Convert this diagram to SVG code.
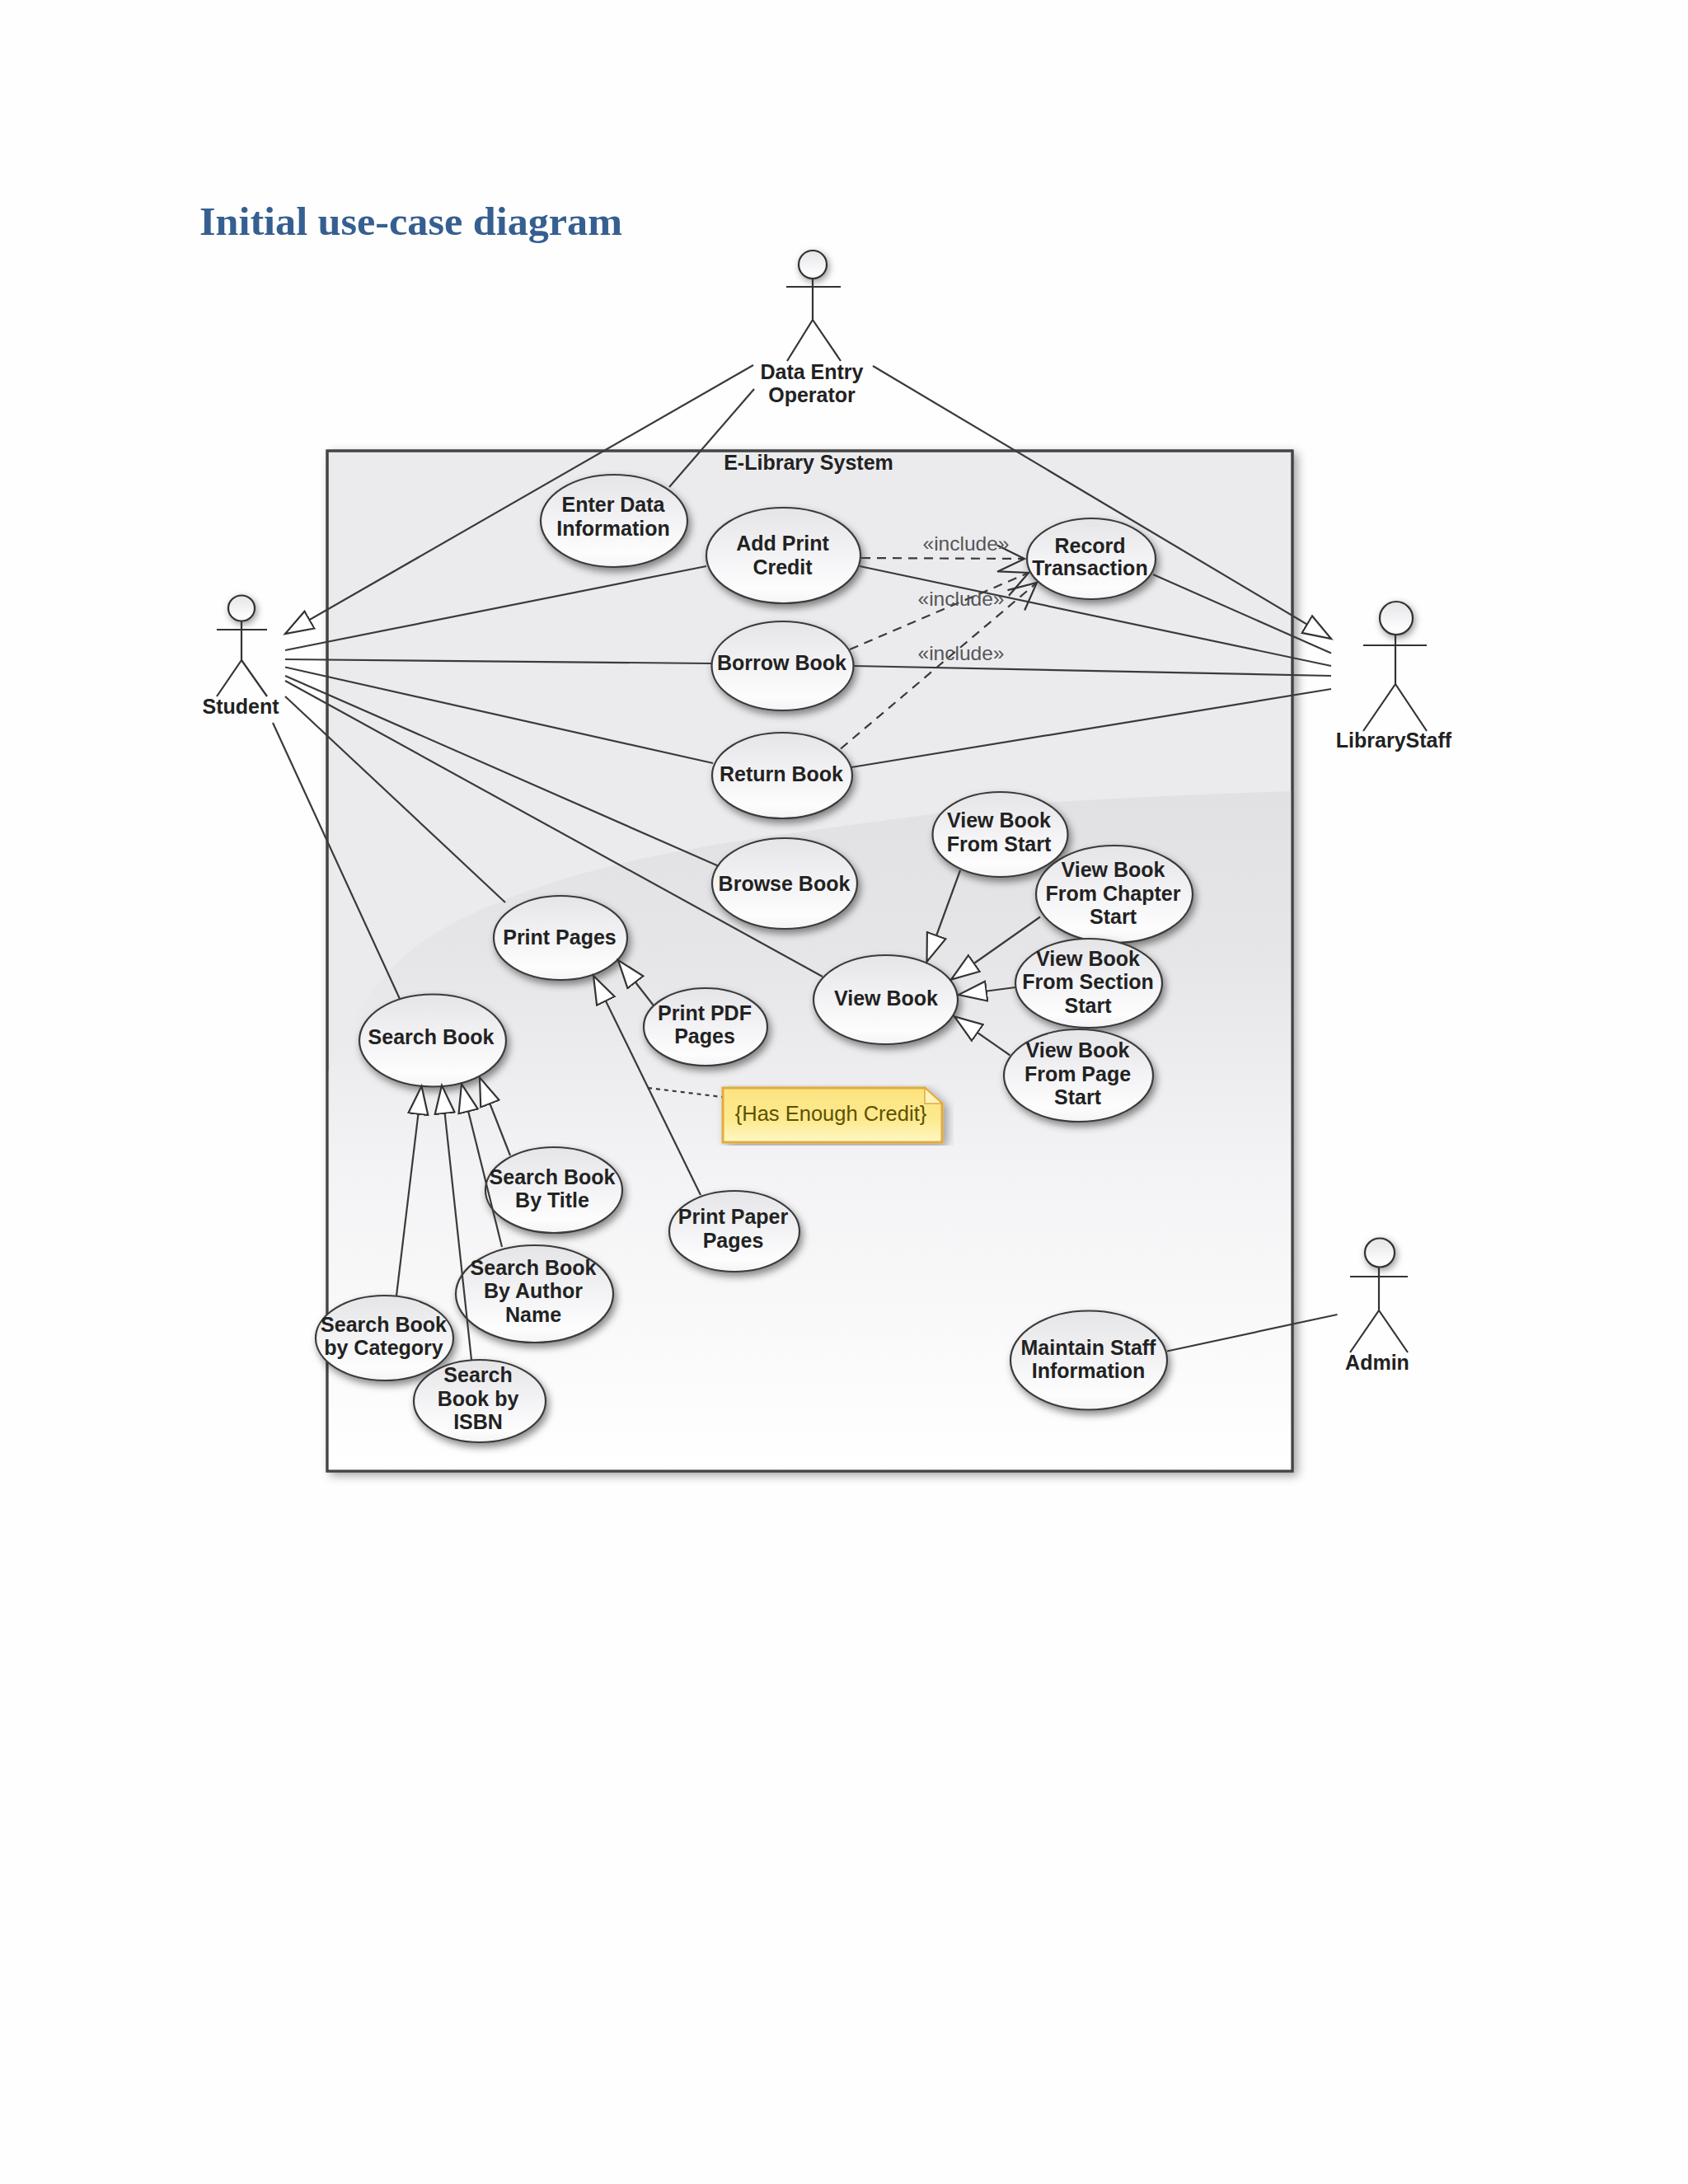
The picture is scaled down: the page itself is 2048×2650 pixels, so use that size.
<svg xmlns="http://www.w3.org/2000/svg" width="2048" height="2650" viewBox="0 0 2048 2650">
<style>
text{font-family:"Liberation Sans",Arial,sans-serif}
.t{font-size:25px;font-weight:bold;fill:#222;text-anchor:middle}
.inc{font-size:24.500px;fill:#555;text-anchor:middle}
.uc{fill:url(#ucFill);stroke:#3a3a3a;stroke-width:2.2;filter:url(#sh)}
.a{fill:none;stroke:#333;stroke-width:2.2}
.head{fill:url(#ucFill);stroke:#333;stroke-width:2.2;filter:url(#halo)}
.c{fill:none;stroke:#3a3a3a;stroke-width:2.2}
.g{marker-end:url(#gen)}
.d{stroke-dasharray:11 8;marker-end:url(#open)}
</style>
<defs>
<linearGradient id="ucFill" x1="0" y1="0" x2="0" y2="1"><stop offset="0" stop-color="#e5e5e8"/><stop offset=".85" stop-color="#fdfdfe"/><stop offset="1" stop-color="#f4f4f6"/></linearGradient>
<linearGradient id="low" gradientUnits="userSpaceOnUse" x1="0" y1="960" x2="0" y2="1785"><stop offset="0" stop-color="#e1e1e4"/><stop offset=".25" stop-color="#e6e6e9"/><stop offset=".55" stop-color="#f3f3f5"/><stop offset="1" stop-color="#fff"/></linearGradient>
<linearGradient id="noteFill" x1="0" y1="0" x2="0" y2="1"><stop offset="0" stop-color="#fce37f"/><stop offset=".6" stop-color="#fdea90"/><stop offset="1" stop-color="#fff8c4"/></linearGradient>
<filter id="sh" x="-20%" y="-20%" width="140%" height="150%"><feDropShadow dx="3" dy="5" stdDeviation="5" flood-color="#000" flood-opacity=".45"/></filter>
<filter id="halo" x="-50%" y="-50%" width="200%" height="200%"><feDropShadow dx="2" dy="3" stdDeviation="4" flood-color="#000" flood-opacity=".4"/></filter>
<filter id="box" x="-5%" y="-5%" width="110%" height="110%"><feDropShadow dx="5" dy="4" stdDeviation="6" flood-color="#000" flood-opacity=".35"/></filter>
<marker id="gen" markerUnits="userSpaceOnUse" markerWidth="38" markerHeight="30" refX="35" refY="15" orient="auto"><path d="M1,3 L35,15 L1,27 Z" fill="#fff" stroke="#333" stroke-width="2.2"/></marker>
<marker id="open" markerUnits="userSpaceOnUse" markerWidth="38" markerHeight="38" refX="34" refY="19" orient="auto"><path d="M1,3 L34,19 L1,35" fill="none" stroke="#333" stroke-width="2.2"/></marker>
</defs>
<rect width="2048" height="2650" fill="#fefefe"/>
<text id="title" x="242" y="285" font-size="49" font-weight="bold" fill="#365f91" textLength="513" lengthAdjust="spacingAndGlyphs" style="font-family:'Liberation Serif','Times New Roman',serif">Initial use-case diagram</text>
<g id="system">
<rect x="397" y="547" width="1171" height="1238" fill="#ebebee" stroke="#444" stroke-width="3" filter="url(#box)"/>
<path d="M1566.500,960 C1400,966 1250,972 1145,986 C950,1012 800,1030 686,1066 C580,1100 520,1130 480,1170 C440,1210 415,1260 398.500,1300 V1783.500 H1566.500 Z" fill="url(#low)"/>
<rect x="397" y="547" width="1171" height="1238" fill="none" stroke="#444" stroke-width="3"/>
<text class="t" x="981" y="570">E-Library System</text>
</g>
<g id="uc-enter"><ellipse class="uc" cx="745" cy="632" rx="89" ry="56"/><text class="t" x="744" y="621">Enter Data</text><text class="t" x="744" y="650">Information</text></g>
<g id="uc-add"><ellipse class="uc" cx="950.500" cy="674" rx="93.500" ry="58"/><text class="t" x="949.500" y="668">Add Print</text><text class="t" x="949.500" y="697">Credit</text></g>
<g id="uc-borrow"><ellipse class="uc" cx="949.500" cy="808" rx="86" ry="54"/><text class="t" x="948.500" y="813">Borrow Book</text></g>
<g id="uc-return"><ellipse class="uc" cx="949" cy="941" rx="85" ry="52"/><text class="t" x="948" y="947.500">Return Book</text></g>
<g id="uc-record"><ellipse class="uc" cx="1324" cy="678" rx="78" ry="49"/><text class="t" x="1322.500" y="670.500">Record</text><text class="t" x="1322.500" y="698">Transaction</text></g>
<g id="uc-browse"><ellipse class="uc" cx="952" cy="1072" rx="88" ry="55"/><text class="t" x="951.500" y="1081">Browse Book</text></g>
<g id="uc-viewbook"><ellipse class="uc" cx="1074.500" cy="1213" rx="87.500" ry="54"/><text class="t" x="1075" y="1220">View Book</text></g>
<g id="uc-vstart"><ellipse class="uc" cx="1213.500" cy="1012.500" rx="82" ry="51.500"/><text class="t" x="1212" y="1004">View Book</text><text class="t" x="1212" y="1032.500">From Start</text></g>
<g id="uc-vchapter"><ellipse class="uc" cx="1352" cy="1085" rx="95" ry="59"/><text class="t" x="1350.500" y="1064">View Book</text><text class="t" x="1350.500" y="1093">From Chapter</text><text class="t" x="1350.500" y="1121">Start</text></g>
<g id="uc-vsection"><ellipse class="uc" cx="1321" cy="1193" rx="89" ry="54"/><text class="t" x="1320" y="1172">View Book</text><text class="t" x="1320" y="1200">From Section</text><text class="t" x="1320" y="1228.500">Start</text></g>
<g id="uc-vpage"><ellipse class="uc" cx="1308.500" cy="1305" rx="90.500" ry="56"/><text class="t" x="1307.500" y="1283">View Book</text><text class="t" x="1307.500" y="1312">From Page</text><text class="t" x="1307.500" y="1340">Start</text></g>
<g id="uc-printpages"><ellipse class="uc" cx="680" cy="1138" rx="81" ry="51"/><text class="t" x="679" y="1145.500">Print Pages</text></g>
<g id="uc-printpdf"><ellipse class="uc" cx="856" cy="1246" rx="75" ry="47"/><text class="t" x="855" y="1237.500">Print PDF</text><text class="t" x="855" y="1266">Pages</text></g>
<g id="uc-printpaper"><ellipse class="uc" cx="891" cy="1494" rx="79" ry="49"/><text class="t" x="889.500" y="1485">Print Paper</text><text class="t" x="889.500" y="1514">Pages</text></g>
<g id="uc-search"><ellipse class="uc" cx="525" cy="1262.500" rx="89" ry="56"/><text class="t" x="523" y="1267">Search Book</text></g>
<g id="uc-stitle"><ellipse class="uc" cx="672" cy="1444" rx="83" ry="52"/><text class="t" x="670" y="1437">Search Book</text><text class="t" x="670" y="1465">By Title</text></g>
<g id="uc-sauthor"><ellipse class="uc" cx="648.500" cy="1570" rx="95.500" ry="59"/><text class="t" x="647" y="1547">Search Book</text><text class="t" x="647" y="1575">By Author</text><text class="t" x="647" y="1603.500">Name</text></g>
<g id="uc-scategory"><ellipse class="uc" cx="466.500" cy="1623.500" rx="83.500" ry="51.500"/><text class="t" x="465.500" y="1615.500">Search Book</text><text class="t" x="465.500" y="1644">by Category</text></g>
<g id="uc-sisbn"><ellipse class="uc" cx="582" cy="1700" rx="80" ry="50"/><text class="t" x="580" y="1677">Search</text><text class="t" x="580" y="1705.500">Book by</text><text class="t" x="580" y="1734">ISBN</text></g>
<g id="uc-maintain"><ellipse class="uc" cx="1321" cy="1650.500" rx="95" ry="60"/><text class="t" x="1320.500" y="1644">Maintain Staff</text><text class="t" x="1320.500" y="1672">Information</text></g>
<g id="note-credit"><path d="M877,1320 H1122 L1143,1339 V1386 H877 Z" fill="url(#noteFill)" stroke="#e2ab3e" stroke-width="3" filter="url(#box)"/><path d="M1122,1320 V1339 H1143 Z" fill="#fff3bd" stroke="#e2ab3e" stroke-width="1.500"/><text x="1008" y="1360" font-size="25.500" fill="#5c5200" text-anchor="middle">{Has Enough Credit}</text></g>
<g id="actor-dataentry"><circle class="head" cx="986" cy="321" r="17"/><path class="a" d="M954,348 H1020 M986,338 V388 L955,438 M986,388 L1020,438"/><text class="t" x="985" y="460">Data Entry</text><text class="t" x="985" y="488">Operator</text></g>
<g id="actor-student"><ellipse class="head" cx="293" cy="738" rx="16" ry="15.500"/><path class="a" d="M263,764 H324 M293,753 V801 L263,845 M293,801 L324,845"/><text class="t" x="292" y="866">Student</text></g>
<g id="actor-librarystaff"><ellipse class="head" cx="1694" cy="750" rx="20" ry="20"/><path class="a" d="M1654,783 H1731 M1693,770 V830 L1654,887 M1693,830 L1731,887"/><text class="t" x="1691" y="907">LibraryStaff</text></g>
<g id="actor-admin"><ellipse class="head" cx="1674" cy="1520" rx="18" ry="17.500"/><path class="a" d="M1638,1549 H1708 M1673,1538 V1590 L1638,1641 M1673,1590 L1708,1641"/><text class="t" x="1671" y="1662">Admin</text></g>
<g id="connectors">
<path class="c g" d="M914,443 L346,769"/>
<path class="c g" d="M1059,444 L1615,775"/>
<path class="c" d="M915,472 L812,591"/>
<path class="c" d="M346,789 L857,687"/>
<path class="c" d="M346,800 L863,805"/>
<path class="c" d="M346,809.500 L865,926"/>
<path class="c" d="M346,820 L872,1051"/>
<path class="c" d="M346,826 L998,1185"/>
<path class="c" d="M346,845 L613,1095"/>
<path class="c" d="M331,877 L485,1212"/>
<path class="c" d="M1399,697 L1615,792.500"/>
<path class="c" d="M1043,687 L1615,808"/>
<path class="c" d="M1035,808 L1615,820"/>
<path class="c" d="M1033,931 L1615,836"/>
<path class="c d" d="M1045,677 L1243,678"/>
<path class="c d" d="M1031,788 L1248,695"/>
<path class="c d" d="M1020,908.500 L1258,707"/>
<path class="c g" d="M1165,1056 L1124.500,1167"/>
<path class="c g" d="M1262,1112.500 L1154,1188.500"/>
<path class="c g" d="M1232,1198 L1163,1207"/>
<path class="c g" d="M1225.500,1280.500 L1158,1233.500"/>
<path class="c g" d="M792.500,1219.500 L750,1165"/>
<path class="c g" d="M850,1450 L720,1184"/>
<path class="c" style="stroke-dasharray:5 5" d="M786,1320 L876,1331"/>
<path class="c g" d="M619,1402 L582,1307.500"/>
<path class="c g" d="M609,1513 L560,1315.500"/>
<path class="c g" d="M572,1650 L536,1317"/>
<path class="c g" d="M481,1572 L511.500,1318"/>
<path class="c" d="M1416,1639.500 L1622.500,1595"/>
<text class="inc" x="1172" y="667.500">«include»</text>
<text class="inc" x="1166" y="734.500">«include»</text>
<text class="inc" x="1166" y="801">«include»</text>
</g>
</svg>
